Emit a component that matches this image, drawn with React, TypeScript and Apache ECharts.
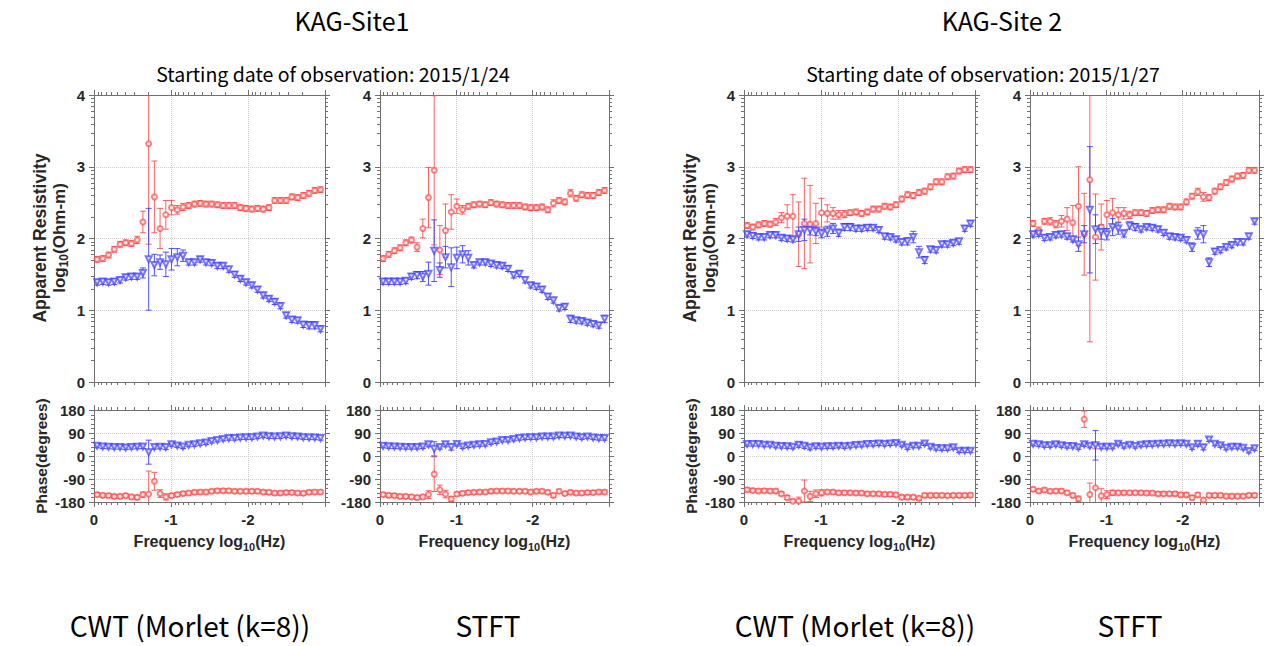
import React, { useEffect, useRef } from "react";
import * as echarts from "echarts";

// log10 of frequency (Hz) for every estimate
const freqLog = [-0.04, -0.114, -0.189, -0.263, -0.338, -0.412, -0.486, -0.561, -0.635, -0.71,
  -0.784, -0.858, -0.933, -1.007, -1.082, -1.156, -1.23, -1.305, -1.379, -1.454,
  -1.528, -1.602, -1.677, -1.751, -1.826, -1.9, -1.974, -2.049, -2.123, -2.198,
  -2.272, -2.346, -2.421, -2.495, -2.57, -2.644, -2.718, -2.793, -2.867, -2.942];

const titles = ["KAG-Site1", "KAG-Site 2"];
const dateLabels = ["Starting date of observation: 2015/1/24", "Starting date of observation: 2015/1/27"];
const methodLabels = ["CWT (Morlet (k=8))", "STFT", "CWT (Morlet (k=8))", "STFT"];

// ---------- KAG-Site1, CWT ----------
const s1CwtRhoRed = [1.71, 1.72, 1.77, 1.85, 1.92, 1.94, 1.93, 1.98, 2.23, 3.32, 2.58, 2.14, 2.33, 2.43, 2.40, 2.44, 2.46, 2.48, 2.49, 2.48, 2.48, 2.47, 2.46, 2.46, 2.46, 2.43, 2.42, 2.41, 2.42, 2.41, 2.43, 2.53, 2.53, 2.53, 2.58, 2.57, 2.60, 2.63, 2.67, 2.68];
const s1CwtRhoRedErr = [0.04, 0.04, 0.04, 0.04, 0.04, 0.04, 0.04, 0.05, 0.15, 1.4, 0.5, 0.28, 0.2, 0.1, 0.06, 0.05, 0.04, 0.04, 0.04, 0.04, 0.04, 0.04, 0.04, 0.04, 0.04, 0.04, 0.04, 0.04, 0.04, 0.04, 0.04, 0.04, 0.04, 0.04, 0.04, 0.04, 0.04, 0.04, 0.04, 0.04];
const s1CwtRhoBlue = [1.39, 1.40, 1.39, 1.40, 1.42, 1.46, 1.47, 1.47, 1.52, 1.71, 1.63, 1.67, 1.64, 1.71, 1.74, 1.76, 1.67, 1.67, 1.71, 1.67, 1.66, 1.62, 1.62, 1.57, 1.50, 1.44, 1.39, 1.35, 1.29, 1.21, 1.16, 1.12, 1.06, 0.93, 0.87, 0.86, 0.80, 0.79, 0.79, 0.74];
const s1CwtRhoBlueErr = [0.04, 0.04, 0.04, 0.04, 0.04, 0.04, 0.04, 0.04, 0.07, 0.71, 0.15, 0.1, 0.17, 0.15, 0.12, 0.08, 0.04, 0.04, 0.04, 0.04, 0.04, 0.04, 0.04, 0.04, 0.04, 0.04, 0.04, 0.04, 0.04, 0.04, 0.04, 0.04, 0.04, 0.04, 0.04, 0.04, 0.04, 0.05, 0.05, 0.04];
const s1CwtPhBlue = [40, 37, 36, 35, 35, 33, 35, 36, 37, 15, 35, 36, 35, 46, 41, 37, 44, 46, 50, 53, 59, 63, 67, 70, 70, 72, 73, 73, 76, 80, 77, 76, 77, 80, 77, 76, 73, 72, 72, 70];
const s1CwtPhBlueErr = [8, 8, 8, 8, 8, 8, 8, 8, 8, 47, 8, 8, 10, 8, 8, 8, 8, 8, 8, 8, 8, 8, 8, 8, 8, 8, 8, 8, 8, 8, 8, 8, 8, 8, 8, 8, 8, 8, 8, 8];
const s1CwtPhRed = [-151, -154, -155, -158, -158, -155, -160, -162, -151, -149, -99, -147, -160, -155, -151, -147, -145, -142, -141, -141, -138, -136, -136, -136, -138, -138, -138, -138, -138, -141, -142, -145, -145, -143, -143, -145, -146, -142, -141, -141];
const s1CwtPhRedErr = [8, 8, 8, 8, 8, 8, 8, 8, 10, 90, 35, 15, 12, 8, 8, 8, 8, 8, 8, 8, 8, 8, 8, 8, 8, 8, 8, 8, 8, 8, 8, 8, 8, 8, 8, 8, 8, 8, 8, 8];

// ---------- KAG-Site1, STFT ----------
const s1StftRhoRed = [1.72, 1.78, 1.83, 1.87, 1.94, 1.98, 1.88, 2.14, 2.57, 2.95, 1.84, 2.11, 2.37, 2.45, 2.40, 2.45, 2.47, 2.48, 2.47, 2.50, 2.48, 2.47, 2.46, 2.46, 2.46, 2.44, 2.43, 2.43, 2.44, 2.40, 2.49, 2.53, 2.51, 2.63, 2.56, 2.61, 2.60, 2.60, 2.64, 2.67];
const s1StftRhoRedErr = [0.04, 0.04, 0.04, 0.04, 0.04, 0.04, 0.06, 0.13, 0.42, 1.04, 0.34, 0.37, 0.24, 0.1, 0.06, 0.04, 0.04, 0.04, 0.04, 0.04, 0.04, 0.04, 0.04, 0.04, 0.04, 0.04, 0.04, 0.04, 0.04, 0.04, 0.05, 0.04, 0.04, 0.05, 0.04, 0.04, 0.04, 0.04, 0.04, 0.04];
const s1StftRhoBlue = [1.40, 1.40, 1.40, 1.40, 1.41, 1.47, 1.49, 1.47, 1.51, 1.83, 1.56, 1.74, 1.60, 1.73, 1.78, 1.73, 1.63, 1.67, 1.67, 1.65, 1.63, 1.62, 1.58, 1.49, 1.51, 1.42, 1.35, 1.33, 1.29, 1.19, 1.14, 1.03, 1.05, 0.88, 0.86, 0.85, 0.83, 0.81, 0.79, 0.88];
const s1StftRhoBlueErr = [0.04, 0.04, 0.04, 0.04, 0.04, 0.04, 0.05, 0.07, 0.16, 0.43, 0.1, 0.15, 0.27, 0.15, 0.12, 0.1, 0.04, 0.04, 0.04, 0.04, 0.04, 0.04, 0.04, 0.04, 0.04, 0.04, 0.04, 0.04, 0.04, 0.04, 0.04, 0.04, 0.04, 0.05, 0.04, 0.04, 0.04, 0.04, 0.04, 0.05];
const s1StftPhBlue = [40, 38, 37, 36, 35, 35, 35, 37, 46, 28, 35, 46, 35, 47, 37, 41, 44, 46, 47, 54, 57, 63, 63, 67, 70, 72, 73, 73, 76, 76, 76, 80, 79, 80, 76, 73, 76, 72, 70, 70];
const s1StftPhBlueErr = [8, 8, 8, 8, 8, 8, 8, 8, 10, 28, 8, 10, 12, 8, 8, 8, 8, 8, 8, 8, 8, 8, 8, 8, 8, 8, 8, 8, 8, 8, 8, 8, 8, 8, 8, 8, 8, 8, 8, 8];
const s1StftPhRed = [-151, -154, -155, -158, -158, -160, -163, -160, -151, -71, -132, -149, -168, -149, -146, -143, -142, -141, -141, -138, -137, -137, -137, -138, -138, -138, -141, -138, -138, -142, -154, -138, -147, -142, -145, -145, -143, -143, -141, -141];
const s1StftPhRedErr = [8, 8, 8, 8, 8, 8, 8, 8, 15, 68, 18, 15, 10, 8, 8, 8, 8, 8, 8, 8, 8, 8, 8, 8, 8, 8, 8, 8, 8, 8, 8, 8, 8, 8, 8, 8, 8, 8, 8, 8];

// ---------- KAG-Site 2, CWT ----------
const s2CwtRhoRed = [2.18, 2.16, 2.19, 2.21, 2.20, 2.23, 2.29, 2.31, 2.31, 2.06, 2.21, 2.20, 2.21, 2.36, 2.35, 2.35, 2.33, 2.34, 2.36, 2.37, 2.35, 2.37, 2.41, 2.41, 2.45, 2.44, 2.47, 2.55, 2.61, 2.60, 2.64, 2.66, 2.72, 2.79, 2.79, 2.86, 2.87, 2.94, 2.96, 2.96];
const s2CwtRhoRedErr = [0.04, 0.04, 0.04, 0.04, 0.04, 0.05, 0.07, 0.16, 0.3, 0.45, 0.63, 0.54, 0.28, 0.2, 0.12, 0.08, 0.06, 0.05, 0.04, 0.04, 0.04, 0.04, 0.04, 0.04, 0.04, 0.04, 0.04, 0.04, 0.04, 0.04, 0.04, 0.04, 0.04, 0.04, 0.04, 0.04, 0.04, 0.04, 0.04, 0.04];
const s2CwtRhoBlue = [2.06, 2.04, 2.02, 2.02, 2.05, 2.05, 2.01, 2.00, 1.99, 2.06, 2.12, 2.12, 2.10, 2.07, 2.10, 2.14, 2.08, 2.16, 2.16, 2.14, 2.14, 2.15, 2.15, 2.12, 2.03, 2.02, 1.99, 1.95, 1.96, 2.02, 1.81, 1.70, 1.85, 1.84, 1.92, 1.92, 1.94, 1.96, 2.14, 2.21];
const s2CwtRhoBlueErr = [0.04, 0.04, 0.04, 0.04, 0.04, 0.04, 0.04, 0.04, 0.04, 0.1, 0.15, 0.07, 0.06, 0.06, 0.07, 0.07, 0.05, 0.05, 0.05, 0.04, 0.04, 0.04, 0.04, 0.04, 0.04, 0.04, 0.04, 0.04, 0.05, 0.08, 0.08, 0.05, 0.04, 0.04, 0.04, 0.04, 0.04, 0.04, 0.04, 0.04];
const s2CwtPhBlue = [47, 47, 47, 44, 44, 40, 39, 38, 36, 44, 40, 34, 38, 36, 38, 38, 40, 38, 40, 43, 44, 47, 47, 49, 47, 49, 51, 44, 34, 40, 40, 49, 36, 31, 30, 30, 34, 21, 21, 21];
const s2CwtPhBlueErr = [8, 8, 8, 8, 8, 8, 8, 8, 8, 10, 10, 10, 8, 8, 8, 8, 8, 8, 8, 8, 8, 8, 8, 8, 8, 8, 8, 8, 8, 8, 8, 8, 8, 8, 8, 8, 8, 8, 8, 8];
const s2CwtPhRed = [-132, -135, -137, -136, -137, -137, -148, -163, -177, -176, -137, -158, -148, -144, -141, -141, -144, -144, -144, -145, -145, -148, -148, -148, -150, -150, -152, -161, -161, -161, -165, -154, -154, -154, -154, -155, -154, -154, -154, -153];
const s2CwtPhRedErr = [8, 8, 8, 8, 8, 8, 8, 8, 8, 15, 43, 20, 15, 12, 8, 8, 8, 8, 8, 8, 8, 8, 8, 8, 8, 8, 8, 8, 8, 8, 8, 8, 8, 8, 8, 8, 8, 8, 8, 8];

// ---------- KAG-Site 2, STFT ----------
const s2StftRhoRed = [2.21, 2.11, 2.24, 2.24, 2.20, 2.24, 2.27, 2.22, 2.45, 2.06, 2.82, 2.02, 2.16, 2.33, 2.36, 2.33, 2.35, 2.33, 2.36, 2.36, 2.35, 2.39, 2.40, 2.40, 2.45, 2.44, 2.44, 2.51, 2.59, 2.65, 2.58, 2.57, 2.66, 2.72, 2.78, 2.83, 2.87, 2.88, 2.95, 2.95];
const s2StftRhoRedErr = [0.04, 0.05, 0.04, 0.05, 0.05, 0.08, 0.16, 0.24, 0.55, 0.57, 2.26, 0.6, 0.32, 0.2, 0.2, 0.1, 0.08, 0.05, 0.04, 0.04, 0.04, 0.04, 0.04, 0.04, 0.04, 0.04, 0.04, 0.04, 0.04, 0.05, 0.06, 0.04, 0.04, 0.04, 0.04, 0.04, 0.04, 0.04, 0.04, 0.04];
const s2StftRhoBlue = [2.06, 2.07, 2.01, 2.02, 2.05, 2.06, 2.03, 1.99, 1.92, 2.06, 2.40, 2.13, 2.09, 2.06, 2.16, 2.14, 2.07, 2.18, 2.16, 2.13, 2.16, 2.15, 2.13, 2.08, 2.03, 2.02, 2.01, 1.98, 1.88, 2.07, 2.06, 1.67, 1.82, 1.84, 1.88, 1.91, 1.95, 1.95, 2.03, 2.24];
const s2StftRhoBlueErr = [0.04, 0.04, 0.04, 0.04, 0.04, 0.04, 0.04, 0.04, 0.1, 0.12, 0.88, 0.2, 0.1, 0.08, 0.12, 0.08, 0.05, 0.05, 0.05, 0.04, 0.04, 0.04, 0.04, 0.04, 0.04, 0.04, 0.04, 0.04, 0.06, 0.08, 0.12, 0.06, 0.04, 0.04, 0.04, 0.04, 0.04, 0.04, 0.04, 0.04];
const s2StftPhBlue = [48, 46, 42, 42, 46, 42, 39, 39, 34, 46, 40, 42, 36, 36, 36, 48, 39, 44, 39, 44, 46, 46, 48, 48, 50, 48, 50, 48, 34, 48, 34, 65, 48, 42, 32, 36, 36, 32, 20, 30];
const s2StftPhBlueErr = [8, 8, 8, 8, 8, 8, 8, 8, 8, 8, 8, 58, 8, 8, 8, 8, 8, 8, 8, 8, 8, 8, 8, 8, 8, 8, 8, 8, 8, 10, 10, 8, 8, 8, 8, 8, 8, 8, 8, 8];
const s2StftPhRed = [-130, -137, -133, -138, -137, -137, -144, -154, -167, 144, -151, -124, -156, -151, -144, -144, -144, -144, -144, -144, -145, -145, -148, -148, -148, -148, -152, -152, -163, -152, -172, -154, -154, -154, -157, -157, -157, -157, -154, -154];
const s2StftPhRedErr = [8, 8, 8, 8, 8, 8, 8, 8, 10, 32, 45, 152, 28, 15, 10, 8, 8, 8, 8, 8, 8, 8, 8, 8, 8, 8, 8, 8, 8, 8, 8, 8, 8, 8, 8, 8, 8, 8, 8, 8];

// axis ticks
const resTicks = [0, 1, 2, 3, 4];
const phaseTicks = [-180, -90, 0, 90, 180];
const freqTicks = [0, -1, -2];

const RED = "rgba(255,70,70,0.85)";
const BLUE = "rgba(55,55,255,0.85)";
const AX = "#707070";
const LBL_FONT = "'Liberation Sans', Arial, sans-serif";
const JP_FONT = "'Noto Sans CJK JP', sans-serif";

const panels = [
  { left: 94, width: 231, rR: s1CwtRhoRed, rRe: s1CwtRhoRedErr, rB: s1CwtRhoBlue, rBe: s1CwtRhoBlueErr, pR: s1CwtPhRed, pRe: s1CwtPhRedErr, pB: s1CwtPhBlue, pBe: s1CwtPhBlueErr },
  { left: 380, width: 229, rR: s1StftRhoRed, rRe: s1StftRhoRedErr, rB: s1StftRhoBlue, rBe: s1StftRhoBlueErr, pR: s1StftPhRed, pRe: s1StftPhRedErr, pB: s1StftPhBlue, pBe: s1StftPhBlueErr },
  { left: 744, width: 231, rR: s2CwtRhoRed, rRe: s2CwtRhoRedErr, rB: s2CwtRhoBlue, rBe: s2CwtRhoBlueErr, pR: s2CwtPhRed, pRe: s2CwtPhRedErr, pB: s2CwtPhBlue, pBe: s2CwtPhBlueErr },
  { left: 1030, width: 229, rR: s2StftRhoRed, rRe: s2StftRhoRedErr, rB: s2StftRhoBlue, rBe: s2StftRhoBlueErr, pR: s2StftPhRed, pRe: s2StftPhRedErr, pB: s2StftPhBlue, pBe: s2StftPhBlueErr },
];

const RES = { top: 95, height: 287, min: resTicks[0], max: resTicks[resTicks.length - 1], interval: 1 };
const PH = { top: 410, height: 92, min: phaseTicks[0], max: phaseTicks[phaseTicks.length - 1], interval: 90 };
const X_MIN = -3;
const X_MAX = freqTicks[0];

// log-style minor ticks
const xMinor: number[] = [];
for (let d = 0; d < 3; d++) for (let k = 2; k <= 9; k++) xMinor.push(-(d + 1 - Math.log10(k)));
const resMinor: number[] = [];
for (let n = 0; n < 4; n++) for (let k = 2; k <= 9; k++) resMinor.push(n + Math.log10(k));
const phMinor: number[] = [];
for (let v = -180; v <= 180; v += 18) if (v % 90 !== 0) phMinor.push(v);

function buildOption() {
  const grid: any[] = [];
  const xAxis: any[] = [];
  const yAxis: any[] = [];
  const series: any[] = [];

  const addPlot = (left: number, width: number, cfg: any, showX: boolean, red: number[], redErr: number[], blue: number[], blueErr: number[], yMinor: number[]) => {
    const gi = grid.length;
    grid.push({ left, top: cfg.top, width, height: cfg.height, containLabel: false });
    const xBase = {
      gridIndex: gi, type: "value", min: X_MIN, max: X_MAX, interval: 1, inverse: true,
      axisLine: { show: true, onZero: false, lineStyle: { color: AX, width: 1 } },
      axisTick: { show: true, length: 5, lineStyle: { color: AX } },
    };
    xAxis.push({
      ...xBase, position: "bottom",
      axisLabel: { show: showX, margin: 10, color: "#262626", fontWeight: "bold", fontSize: 15, fontFamily: LBL_FONT, formatter: (v: number) => (v <= X_MIN ? "" : String(v)) },
      splitLine: { show: true, lineStyle: { type: "dotted", color: "#cfcfcf" } },
    });
    xAxis.push({ ...xBase, position: "top", axisLabel: { show: false }, splitLine: { show: false } });
    const yBase = {
      gridIndex: gi, type: "value", min: cfg.min, max: cfg.max, interval: cfg.interval,
      axisLine: { show: true, onZero: false, lineStyle: { color: AX, width: 1 } },
      axisTick: { show: true, length: 5, lineStyle: { color: AX } },
    };
    yAxis.push({
      ...yBase, position: "left",
      axisLabel: { show: true, margin: 9, color: "#262626", fontWeight: "bold", fontSize: 15, fontFamily: LBL_FONT },
      splitLine: { show: true, lineStyle: { type: "dotted", color: "#cfcfcf" } },
    });
    yAxis.push({ ...yBase, position: "right", axisLabel: { show: false }, splitLine: { show: false } });
    const xi = xAxis.length - 2;
    const yi = yAxis.length - 2;
    const yMin = cfg.min, yMax = cfg.max;

    // minor ticks
    series.push({
      type: "custom", xAxisIndex: xi, yAxisIndex: yi, silent: true, z: 3,
      data: [[-1, (yMin + yMax) / 2]],
      renderItem: (_p: any, api: any) => {
        const children: any[] = [];
        const st = { stroke: AX, lineWidth: 1 };
        for (const v of xMinor) {
          const t = api.coord([v, yMax]);
          const b = api.coord([v, yMin]);
          const x = Math.round(t[0]) + 0.5;
          children.push({ type: "line", shape: { x1: x, y1: t[1], x2: x, y2: t[1] - 3 }, style: st });
          children.push({ type: "line", shape: { x1: x, y1: b[1], x2: x, y2: b[1] + 3 }, style: st });
        }
        for (const v of yMinor) {
          const l = api.coord([X_MAX, v]);
          const r = api.coord([X_MIN, v]);
          const y = Math.round(l[1]) + 0.5;
          children.push({ type: "line", shape: { x1: l[0], y1: y, x2: l[0] - 3, y2: y }, style: st });
          children.push({ type: "line", shape: { x1: r[0], y1: y, x2: r[0] + 3, y2: y }, style: st });
        }
        return { type: "group", children };
      },
    });

    const errSeries = (vals: number[], errs: number[], color: string) => ({
      type: "custom", xAxisIndex: xi, yAxisIndex: yi, silent: true, z: 4,
      encode: { x: 0, y: 1 },
      data: freqLog.map((f, i) => [f, vals[i], errs[i]]),
      renderItem: (_p: any, api: any) => {
        const x = api.value(0), v = api.value(1), e = api.value(2);
        const hiRaw = v + e, loRaw = v - e;
        const hi = Math.min(hiRaw, yMax), lo = Math.max(loRaw, yMin);
        const pH = api.coord([x, hi]);
        const pL = api.coord([x, lo]);
        const st = { stroke: color, lineWidth: 1 };
        const cw = 3;
        const children: any[] = [{ type: "line", shape: { x1: pH[0], y1: pH[1], x2: pL[0], y2: pL[1] }, style: st }];
        if (hiRaw <= yMax) children.push({ type: "line", shape: { x1: pH[0] - cw, y1: pH[1], x2: pH[0] + cw, y2: pH[1] }, style: st });
        if (loRaw >= yMin) children.push({ type: "line", shape: { x1: pL[0] - cw, y1: pL[1], x2: pL[0] + cw, y2: pL[1] }, style: st });
        return { type: "group", children };
      },
    });
    series.push(errSeries(red, redErr, RED));
    series.push(errSeries(blue, blueErr, BLUE));
    series.push({
      type: "scatter", xAxisIndex: xi, yAxisIndex: yi, z: 5, silent: true,
      symbol: "emptyCircle", symbolSize: 5,
      itemStyle: { color: RED, borderWidth: 1 },
      data: freqLog.map((f, i) => [f, red[i]]),
    });
    series.push({
      type: "scatter", xAxisIndex: xi, yAxisIndex: yi, z: 5, silent: true,
      symbol: "emptyTriangle", symbolRotate: 180, symbolSize: 6,
      itemStyle: { color: BLUE, borderWidth: 1 },
      data: freqLog.map((f, i) => [f, blue[i]]),
    });
  };

  panels.forEach((p) => {
    addPlot(p.left, p.width, RES, false, p.rR, p.rRe, p.rB, p.rBe, resMinor);
    addPlot(p.left, p.width, PH, true, p.pR, p.pRe, p.pB, p.pBe, phMinor);
  });

  const graphic: any[] = [];
  const sub = (main: number, small: number) => ({
    a: { fontSize: main, fontWeight: "bold", fontFamily: LBL_FONT, fill: "#262626", lineHeight: 22, verticalAlign: "middle" },
    s: { fontSize: small, fontWeight: "bold", fontFamily: LBL_FONT, fill: "#262626", lineHeight: 12, verticalAlign: "bottom" },
  });
  [0, 1].forEach((site) => {
    const dx = site * 650;
    graphic.push({ type: "text", x: 352 + dx, y: 20, style: { text: titles[site], fontSize: 25, fontFamily: JP_FONT, fill: "#000", align: "center", verticalAlign: "middle" } });
    graphic.push({ type: "text", x: 333 + dx, y: 73, style: { text: dateLabels[site], fontSize: 19.5, fontFamily: JP_FONT, fill: "#000", align: "center", verticalAlign: "middle" } });
    graphic.push({ type: "text", x: 40 + dx, y: 238, rotation: Math.PI / 2, style: { text: "Apparent Resistivity", fontSize: 17.5, fontWeight: "bold", fontFamily: LBL_FONT, fill: "#262626", align: "center", verticalAlign: "middle" } });
    graphic.push({ type: "text", x: 59 + dx, y: 238, rotation: Math.PI / 2, style: { text: "{a|log}{s|10}{a|(Ohm-m)}", rich: sub(17, 12), align: "center", verticalAlign: "middle" } });
    graphic.push({ type: "text", x: 41 + dx, y: 456, rotation: Math.PI / 2, style: { text: "Phase(degrees)", fontSize: 15.5, fontWeight: "bold", fontFamily: LBL_FONT, fill: "#262626", align: "center", verticalAlign: "middle" } });
  });
  panels.forEach((p) => {
    graphic.push({ type: "text", x: p.left + p.width / 2, y: 541, style: { text: "{a|Frequency log}{s|10}{a|(Hz)}", rich: sub(16, 11), align: "center", verticalAlign: "middle" } });
  });
  const methodX = [190, 488, 855, 1130];
  methodLabels.forEach((t, i) => {
    graphic.push({ type: "text", x: methodX[i], y: 625, style: { text: t, fontSize: 28, fontFamily: JP_FONT, fill: "#000", align: "center", verticalAlign: "middle" } });
  });

  return { animation: false, backgroundColor: "#fff", grid, xAxis, yAxis, series, graphic };
}

export default function App() {
  const ref = useRef<HTMLDivElement>(null);
  useEffect(() => {
    const chart = echarts.init(ref.current as HTMLDivElement, null, { renderer: "svg" });
    chart.setOption(buildOption() as any);
    return () => chart.dispose();
  }, []);
  return <div ref={ref} style={{ position: "fixed", left: 0, top: 0, width: 1273, height: 646, background: "#fff" }} />;
}
